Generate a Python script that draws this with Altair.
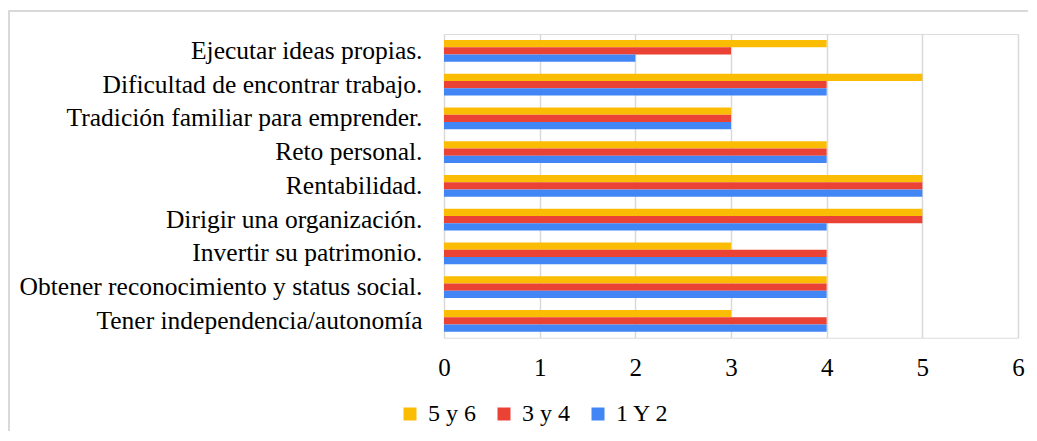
import altair as alt
import pandas as pd

categories = [
    "Ejecutar ideas propias.",
    "Dificultad de encontrar trabajo.",
    "Tradición familiar para emprender.",
    "Reto personal.",
    "Rentabilidad.",
    "Dirigir una organización.",
    "Invertir su patrimonio.",
    "Obtener reconocimiento y status social.",
    "Tener independencia/autonomía",
]
series = ["5 y 6", "3 y 4", "1 Y 2"]
vals_56 = [4, 5, 3, 4, 5, 5, 3, 4, 3]
vals_34 = [3, 4, 3, 4, 5, 5, 4, 4, 4]
vals_12 = [2, 4, 3, 4, 5, 4, 4, 4, 4]
colors = ["#FBBC04", "#EA4335", "#4285F4"]
x_ticks = [0, 1, 2, 3, 4, 5, 6]

rows = []
for s, vals in zip(series, [vals_56, vals_34, vals_12]):
    for c, v in zip(categories, vals):
        rows.append({"cat": c, "serie": s, "valor": v})
df = pd.DataFrame(rows)

FONT = "Liberation Serif"
W, H = 574, 303.75

bars = alt.Chart(df).mark_bar().encode(
    y=alt.Y("cat:N", sort=categories, title=None,
            scale=alt.Scale(paddingInner=0.35, paddingOuter=0.175),
            axis=alt.Axis(ticks=False, domain=False, labelFont=FONT, labelFontSize=25.5,
                          labelColor="#000000", labelPadding=22, labelLimit=450, grid=False)),
    yOffset=alt.YOffset("serie:N", sort=series, scale=alt.Scale(domain=series)),
    x=alt.X("valor:Q", title=None,
            scale=alt.Scale(domain=[0, 6], nice=False),
            axis=alt.Axis(values=x_ticks, ticks=False, domain=False, labelFont=FONT,
                          labelFontSize=25, labelColor="#000000", labelPadding=18,
                          labelFlush=False, labelOverlap=False,
                          grid=True, gridColor="#d9d9d9", gridWidth=1.5)),
    color=alt.Color("serie:N", sort=series,
                    scale=alt.Scale(domain=series, range=colors),
                    legend=alt.Legend(title=None, orient="none", direction="horizontal",
                                      legendX=-46, legendY=368, symbolType="square",
                                      symbolSize=169, symbolStrokeWidth=0,
                                      labelFont=FONT, labelFontSize=24, labelColor="#000000",
                                      labelOffset=6, columnPadding=16)),
)

frame = alt.Chart(pd.DataFrame({"a": [0]})).mark_rect(
    fill="transparent", stroke="#d9d9d9", strokeWidth=2
).encode(
    x=alt.value(-435), x2=alt.value(W + 200),
    y=alt.value(-23), y2=alt.value(H + 200),
)

chart = alt.layer(frame, bars).properties(
    width=W, height=H,
    padding={"left": 436, "top": 26, "right": 10, "bottom": 93},
    autosize=alt.AutoSizeParams(type="none"),
).configure_view(strokeWidth=0, stroke="transparent").configure(background="#ffffff")

chart.save("out.html", embed_options={"renderer": "svg", "actions": False})
